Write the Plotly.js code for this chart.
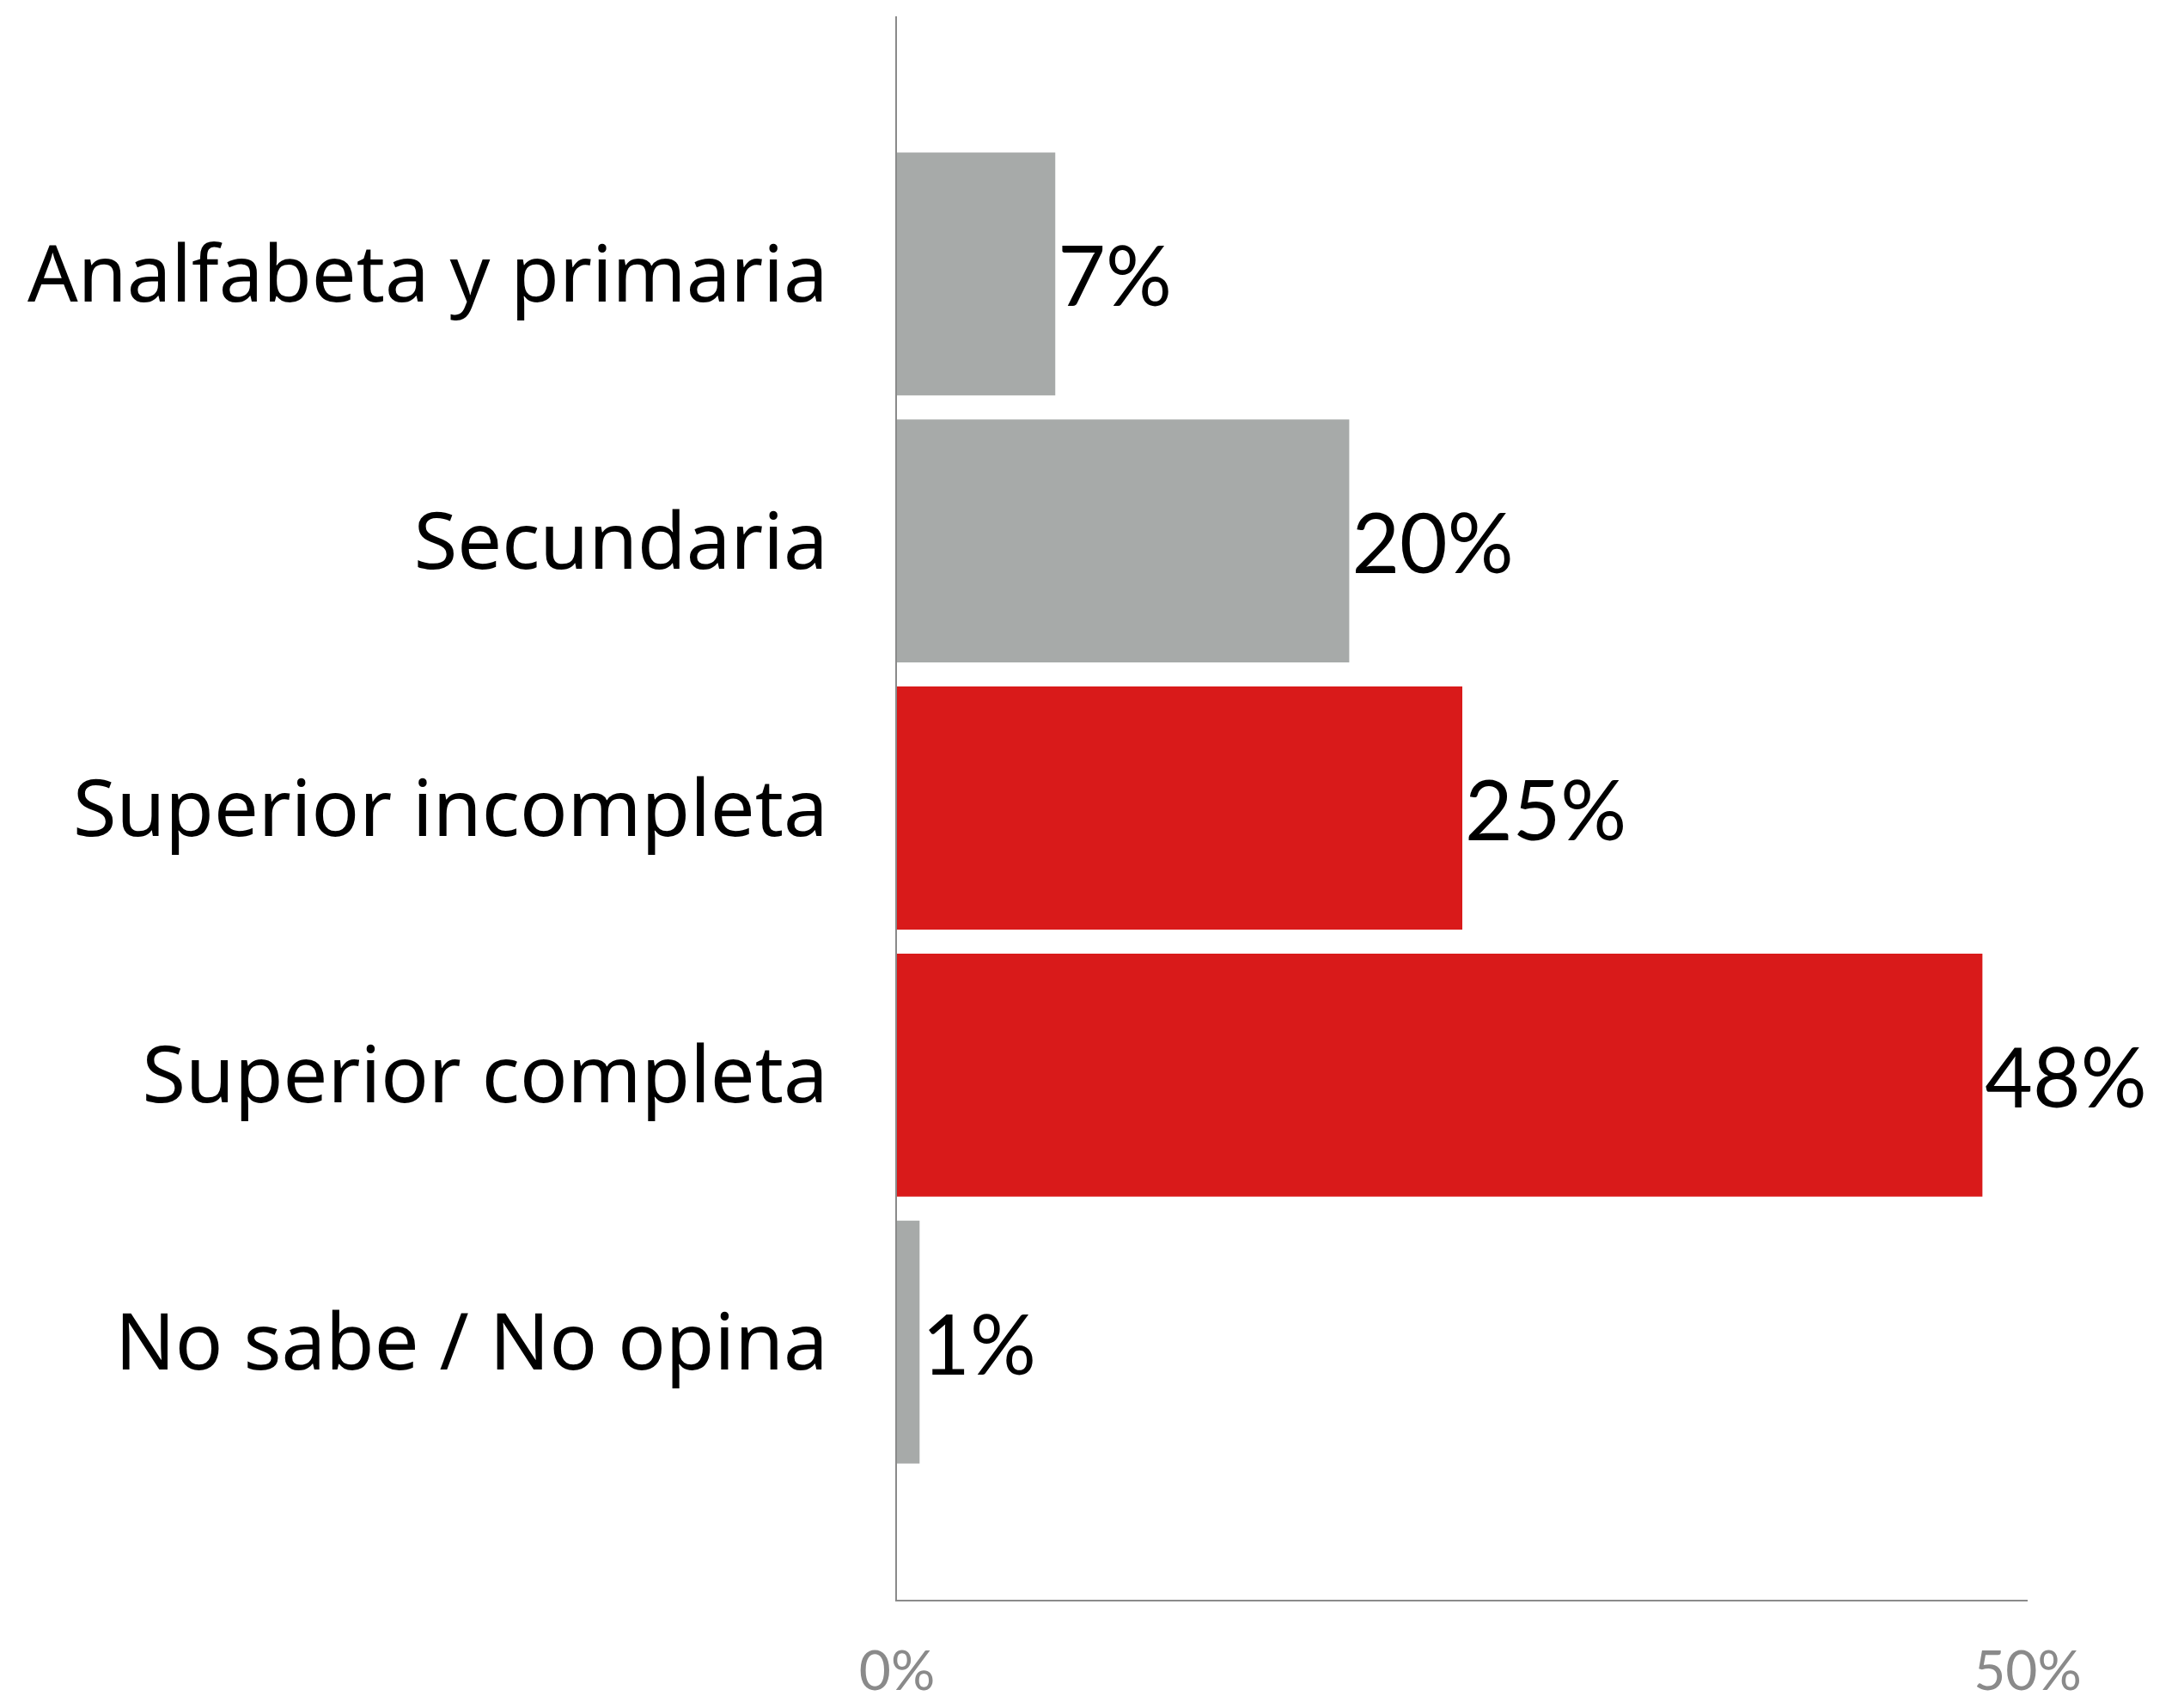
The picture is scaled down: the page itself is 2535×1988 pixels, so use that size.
<!DOCTYPE html>
<html>
<head>
<meta charset="utf-8">
<script src="https://cdn.plot.ly/plotly-3.0.1.min.js"></script>
<style>html,body{margin:0;padding:0;background:#fff;}#chart{width:2535px;height:1988px;}</style>
</head>
<body>
<div id="chart"></div>
<script>
const categories = ["Analfabeta y primaria", "Secundaria", "Superior incompleta", "Superior completa", "No sabe / No opina"];
const values = [7, 20, 25, 48, 1];
const barColors = ["#a7aaa9", "#a7aaa9", "#d91a1a", "#d91a1a", "#a7aaa9"];
const xTickVals = [0, 50];
const xTickText = ["0%", "50%"];

const trace = {
  type: "bar",
  orientation: "h",
  y: categories,
  x: values,
  marker: {color: barColors, line: {width: 0}},
  text: values.map(v => v + "%"),
  textposition: "outside",
  cliponaxis: false,
  textfont: {family: "Lato, sans-serif", size: 96, color: "#000"},
  hoverinfo: "none"
};

const layout = {
  width: 2535,
  height: 1988,
  margin: {l: 1044, r: 175, t: 19, b: 126, pad: 0},
  paper_bgcolor: "#fff",
  plot_bgcolor: "#fff",
  showlegend: false,
  bargap: 0.09,
  xaxis: {
    range: [0, 50],
    tickvals: xTickVals,
    ticktext: xTickText,
    showgrid: false,
    zeroline: false,
    showline: true,
    linecolor: "#8a8a8a",
    linewidth: 2,
    ticks: "",
    ticklabelstandoff: 26,
    tickfont: {family: "Lato, sans-serif", size: 64, color: "#8a8a8a"}
  },
  yaxis: {
    type: "category",
    categoryorder: "array",
    categoryarray: categories,
    range: [4.965, -0.965],
    showgrid: false,
    zeroline: false,
    showline: true,
    linecolor: "#8a8a8a",
    linewidth: 2,
    ticks: "",
    ticklabelstandoff: 60,
    tickfont: {family: "Noto Sans, sans-serif", size: 92, color: "#000"}
  }
};

Plotly.newPlot("chart", [trace], layout, {displayModeBar: false, staticPlot: true});
</script>
</body>
</html>
